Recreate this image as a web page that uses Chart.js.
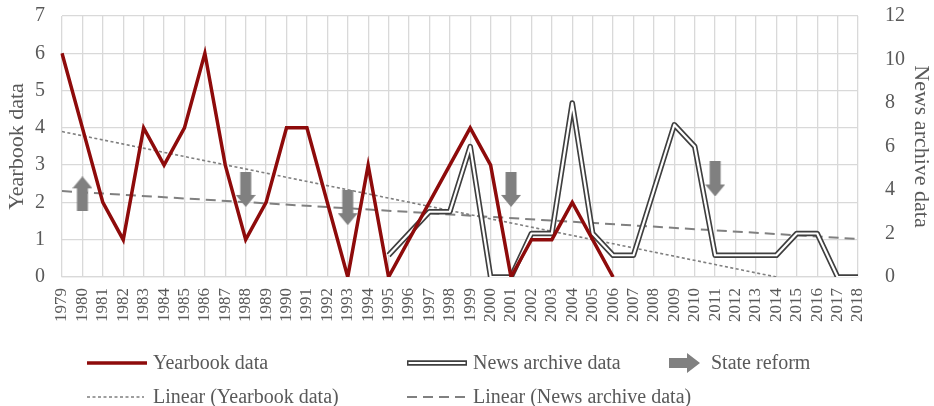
<!DOCTYPE html>
<html>
<head>
<meta charset="utf-8">
<script src="https://cdn.jsdelivr.net/npm/chart.js@4/dist/chart.umd.min.js"></script>
<style>
html,body{margin:0;padding:0;background:#ffffff;}
#wrap{position:relative;width:934px;height:406px;overflow:hidden;background:#fff;}
#c{position:absolute;left:0;top:0;}
#legendSvg{position:absolute;left:0;top:0;}
.lg{position:absolute;font-family:"Liberation Serif","Times New Roman",serif;font-size:20px;line-height:24px;color:#595959;white-space:nowrap;}
</style>
</head>
<body>
<div id="wrap">
<canvas id="c" width="934" height="406"></canvas>
<svg id="legendSvg" width="934" height="406"></svg>
<div id="legend"></div>
</div>
<script>
// ---- Data ----
const years = ['1979','1980','1981','1982','1983','1984','1985','1986','1987','1988',
               '1989','1990','1991','1992','1993','1994','1995','1996','1997','1998',
               '1999','2000','2001','2002','2003','2004','2005','2006','2007','2008',
               '2009','2010','2011','2012','2013','2014','2015','2016','2017','2018'];

const yearbookData = [6,4,2,1,4,3,4,6,3,1,
                      2,4,4,2,0,3,0,1,2,3,
                      4,3,0,1,1,2,1,0,null,null,
                      null,null,null,null,null,null,null,null,null,null];

const newsArchiveData = [null,null,null,null,null,null,null,null,null,null,
                         null,null,null,null,null,null,1,2,3,3,
                         6,0,0,2,2,8,2,1,1,4,
                         7,6,1,1,1,1,2,2,0,0];

// Linear trend lines: end points
const yearbookTrendYears = ['1979','2014'];
const yearbookTrendValues = [3.9, 0];          // left axis
const newsTrendYears = ['1979','2018'];
const newsTrendValues = [3.95, 1.75];          // right axis

// State reform arrows (position on left axis)
const reformYears = ['1980','1988','1993','2001','2011'];
const reformLevels = [2.23, 2.35, 1.86, 2.35, 2.63];
const reformDirections = ['up','down','down','down','down'];

const leftTicks = [0,1,2,3,4,5,6,7];
const rightTicks = [0,2,4,6,8,10,12];

const seriesNames = ['Yearbook data','News archive data','State reform',
                     'Linear (Yearbook data)','Linear (News archive data)'];
const axisTitles = ['Yearbook data','News archive data'];

// ---- Styles ----
const RED = '#8e0b0b';
const DARK = '#3f3f3f';
const GREYTXT = '#595959';
const GRID = '#d9d9d9';
const ARROW = '#808080';
const FONT = '"Liberation Serif","Times New Roman",serif';

function makeArrow(dir){
  const w = 20, h = 35, shaft = 11, head = 12;
  const cv = document.createElement('canvas');
  cv.width = w; cv.height = h;
  const g = cv.getContext('2d');
  g.fillStyle = ARROW;
  g.beginPath();
  if (dir === 'down'){
    g.moveTo((w-shaft)/2,0); g.lineTo((w+shaft)/2,0);
    g.lineTo((w+shaft)/2,h-head); g.lineTo(w,h-head);
    g.lineTo(w/2,h); g.lineTo(0,h-head); g.lineTo((w-shaft)/2,h-head);
  } else {
    g.moveTo((w-shaft)/2,h); g.lineTo((w+shaft)/2,h);
    g.lineTo((w+shaft)/2,head); g.lineTo(w,head);
    g.lineTo(w/2,0); g.lineTo(0,head); g.lineTo((w-shaft)/2,head);
  }
  g.closePath(); g.fill();
  return cv;
}
const arrowImgs = {up: makeArrow('up'), down: makeArrow('down')};

function fixVertical(width){
  return (s)=>{ s.width = width; s.paddingTop = 0; s.paddingBottom = 0; };
}

const ctx = document.getElementById('c').getContext('2d');
const chart = new Chart(ctx, {
  type: 'line',
  data: {
    labels: years,
    datasets: [
      {
        label: seriesNames[2],
        data: reformYears.map((y,i)=>({x:y, y:reformLevels[i]})),
        yAxisID: 'y',
        showLine: false,
        pointStyle: (c)=> arrowImgs[reformDirections[c.dataIndex]] || arrowImgs.down,
        pointRadius: 10,
        order: 0
      },
      {
        label: seriesNames[0],
        data: yearbookData,
        yAxisID: 'y',
        borderColor: RED,
        borderWidth: 3.5,
        pointRadius: 0,
        tension: 0,
        borderJoinStyle: 'miter',
        order: 1
      },
      {
        label: seriesNames[1] + ' (inner)',
        data: newsArchiveData,
        yAxisID: 'y1',
        borderColor: '#ffffff',
        borderWidth: 2.2,
        pointRadius: 0,
        tension: 0,
        borderJoinStyle: 'round',
        order: 2
      },
      {
        label: seriesNames[1],
        data: newsArchiveData,
        yAxisID: 'y1',
        borderColor: DARK,
        borderWidth: 5.5,
        pointRadius: 0,
        tension: 0,
        borderJoinStyle: 'round',
        order: 3
      },
      {
        label: seriesNames[3],
        data: yearbookTrendYears.map((y,i)=>({x:y, y:yearbookTrendValues[i]})),
        yAxisID: 'y',
        borderColor: '#7f7f7f',
        borderWidth: 1.6,
        borderDash: [3,2.5],
        pointRadius: 0,
        order: 4
      },
      {
        label: seriesNames[4],
        data: newsTrendYears.map((y,i)=>({x:y, y:newsTrendValues[i]})),
        yAxisID: 'y1',
        borderColor: '#808080',
        borderWidth: 2,
        borderDash: [10,6],
        pointRadius: 0,
        order: 5
      }
    ]
  },
  options: {
    responsive: false,
    animation: false,
    events: [],
    layout: { padding: { top: 16, bottom: 79, left: 0, right: 0 } },
    plugins: { legend: { display: false }, tooltip: { enabled: false } },
    scales: {
      x: {
        type: 'category',
        offset: false,
        grid: { color: GRID, lineWidth: 1.3, drawTicks: false, offset: false },
        border: { display: true, color: GRID, width: 1.3 },
        ticks: {
          autoSkip: false, minRotation: 90, maxRotation: 90, padding: 11,
          color: GREYTXT, font: { family: FONT, size: 17 }
        },
        afterFit: (s)=>{ s.height = 50; }
      },
      y: {
        position: 'left',
        min: leftTicks[0], max: leftTicks[leftTicks.length-1],
        afterBuildTicks: (s)=>{ s.ticks = leftTicks.map(v=>({value:v})); },
        grid: { color: GRID, lineWidth: 1.3, drawTicks: false },
        border: { display: false },
        ticks: { padding: 17, color: GREYTXT, font: { family: FONT, size: 20 } },
        title: { display: true, text: axisTitles[0], color: GREYTXT,
                 font: { family: FONT, size: 22 }, padding: { top: 4, bottom: 0 } },
        afterFit: fixVertical(62)
      },
      y1: {
        position: 'right',
        min: rightTicks[0], max: rightTicks[rightTicks.length-1],
        afterBuildTicks: (s)=>{ s.ticks = rightTicks.map(v=>({value:v})); },
        grid: { drawOnChartArea: false, drawTicks: false },
        border: { display: false },
        ticks: { padding: 27, color: GREYTXT, font: { family: FONT, size: 20 } },
        title: { display: true, text: axisTitles[1], color: GREYTXT,
                 font: { family: FONT, size: 22 }, padding: { top: 0, bottom: 0 } },
        afterFit: fixVertical(76)
      }
    }
  }
});

// ---- Legend (HTML text + SVG samples), built from the dataset names ----
const NS = 'http://www.w3.org/2000/svg';
const svg = document.getElementById('legendSvg');
const legendDiv = document.getElementById('legend');
function svgEl(tag, attrs){
  const e = document.createElementNS(NS, tag);
  for (const k in attrs) e.setAttribute(k, attrs[k]);
  svg.appendChild(e);
  return e;
}
function text(str, x, yc){
  const d = document.createElement('div');
  d.className = 'lg';
  d.textContent = str;
  d.style.left = x + 'px';
  d.style.top = (yc - 13) + 'px';
  legendDiv.appendChild(d);
}
const row1 = 363, row2 = 397;
// Yearbook data
svgEl('line',{x1:87,y1:row1,x2:147,y2:row1,stroke:RED,'stroke-width':3.5});
text(seriesNames[0], 153, row1);
// News archive data (double line)
svgEl('line',{x1:407,y1:row1,x2:467,y2:row1,stroke:DARK,'stroke-width':5.5});
svgEl('line',{x1:408.5,y1:row1,x2:465.5,y2:row1,stroke:'#fff','stroke-width':2.2});
text(seriesNames[1], 473, row1);
// State reform (right arrow)
svgEl('polygon',{points:`669,${row1-5} 687,${row1-5} 687,${row1-10} 700,${row1} 687,${row1+10} 687,${row1+5} 669,${row1+5}`, fill:ARROW});
text(seriesNames[2], 711, row1);
// Linear (Yearbook data)
svgEl('line',{x1:87,y1:row2,x2:144,y2:row2,stroke:'#7f7f7f','stroke-width':1.6,'stroke-dasharray':'3 2.5'});
text(seriesNames[3], 153, row2);
// Linear (News archive data)
svgEl('line',{x1:407,y1:row2,x2:467,y2:row2,stroke:'#808080','stroke-width':2,'stroke-dasharray':'10 6'});
text(seriesNames[4], 473, row2);
</script>
</body>
</html>
